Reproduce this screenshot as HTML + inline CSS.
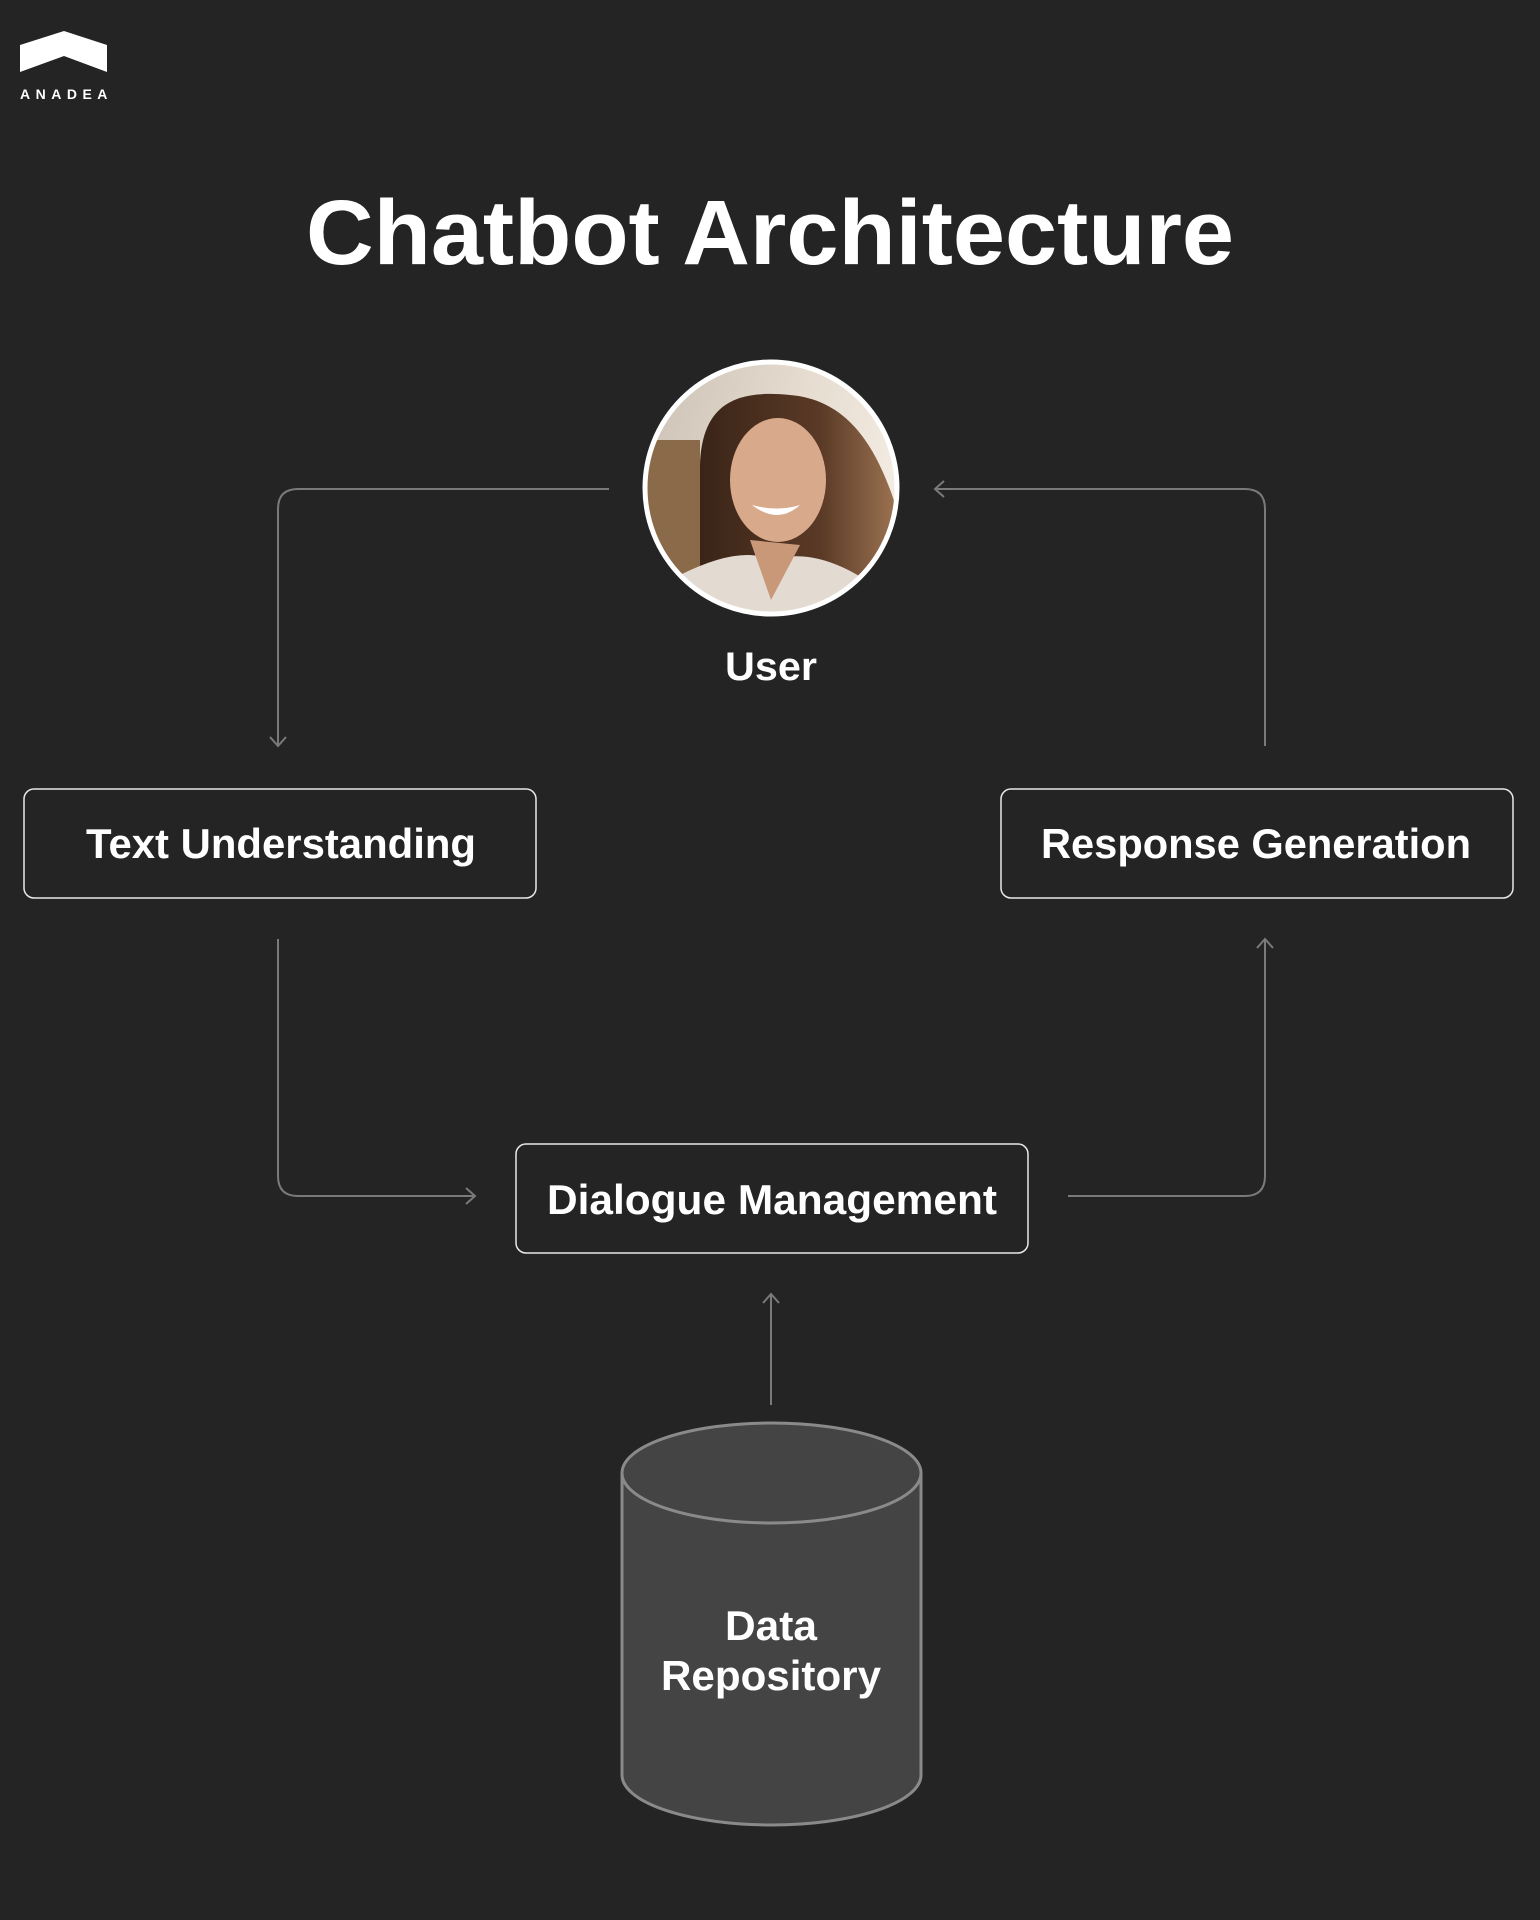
<!DOCTYPE html>
<html><head><meta charset="utf-8"><style>
html,body{margin:0;padding:0;background:#242424;}
svg{display:block;}
text{font-family:"Liberation Sans",sans-serif;fill:#fff;font-weight:bold;}
</style></head><body>
<svg width="1540" height="1920" viewBox="0 0 1540 1920" xmlns="http://www.w3.org/2000/svg">
<rect width="1540" height="1920" fill="#242424"/>
<defs>
<clipPath id="cc"><circle cx="771" cy="488" r="125"/></clipPath>
<linearGradient id="bg" x1="0" y1="0" x2="1" y2="0.3"><stop offset="0" stop-color="#c9bfb3"/><stop offset="0.6" stop-color="#e6dcd0"/><stop offset="1" stop-color="#f3ece2"/></linearGradient>
<linearGradient id="hair" x1="0" y1="0" x2="1" y2="0"><stop offset="0" stop-color="#3a2418"/><stop offset="0.6" stop-color="#5a3a26"/><stop offset="1" stop-color="#a07654"/></linearGradient>
</defs>
<!-- logo -->
<polygon points="20,45 64,31 107,45 107,72 64,56 20,72" fill="#fff"/>
<text x="20" y="99" font-size="14" letter-spacing="5.5" font-weight="normal">ANADEA</text>
<!-- title -->
<text x="770" y="264" font-size="92" text-anchor="middle" textLength="928" lengthAdjust="spacingAndGlyphs">Chatbot Architecture</text>
<!-- photo -->
<g clip-path="url(#cc)">
<rect x="640" y="355" width="270" height="270" fill="url(#bg)"/>
<rect x="640" y="440" width="60" height="150" fill="#8a6a48"/>
<path d="M700 470 C700 400 740 390 790 395 C850 400 880 450 900 520 C905 560 890 590 870 600 L700 600 Z" fill="url(#hair)"/>
<ellipse cx="778" cy="480" rx="48" ry="62" fill="#d8a98a"/>
<path d="M752 505 Q778 525 800 505 Q778 512 752 505Z" fill="#fff"/>
<path d="M680 575 Q740 545 771 560 Q820 545 880 590 L880 625 L680 625Z" fill="#e3dbd2"/>
<path d="M750 540 L771 600 L800 545 Z" fill="#c99879"/>
</g>
<circle cx="771" cy="488" r="126" fill="none" stroke="#fff" stroke-width="5"/>
<text x="771" y="680" font-size="40" text-anchor="middle" textLength="92" lengthAdjust="spacingAndGlyphs">User</text>
<!-- connectors -->
<g fill="none" stroke="#7a7a7a" stroke-width="2">
<path d="M609 489 H298 Q278 489 278 509 V746"/>
<path d="M270 737 L278 746 L286 737"/>
<path d="M935 489 H1245 Q1265 489 1265 509 V746"/>
<path d="M944 481 L935 489 L944 497"/>
<path d="M278 939 V1176 Q278 1196 298 1196 H475"/>
<path d="M466 1188 L475 1196 L466 1204"/>
<path d="M1068 1196 H1245 Q1265 1196 1265 1176 V939"/>
<path d="M1257 948 L1265 939 L1273 948"/>
<path d="M771 1405 V1294"/>
<path d="M763 1303 L771 1294 L779 1303"/>
</g>
<!-- boxes -->
<g fill="#242424" stroke="#e8e8e8" stroke-width="1.5">
<rect x="24" y="789" width="512" height="109" rx="10"/>
<rect x="1001" y="789" width="512" height="109" rx="10"/>
<rect x="516" y="1144" width="512" height="109" rx="10"/>
</g>
<text x="281" y="858" font-size="42" text-anchor="middle" textLength="390" lengthAdjust="spacingAndGlyphs">Text Understanding</text>
<text x="1256" y="858" font-size="42" text-anchor="middle" textLength="430" lengthAdjust="spacingAndGlyphs">Response Generation</text>
<text x="772" y="1214" font-size="42" text-anchor="middle" textLength="450" lengthAdjust="spacingAndGlyphs">Dialogue Management</text>
<!-- cylinder -->
<path d="M622 1473 V1775 A149.5 50 0 0 0 921 1775 V1473" fill="#444" stroke="#8a8a8a" stroke-width="3"/>
<ellipse cx="771.5" cy="1473" rx="149.5" ry="50" fill="#444" stroke="#8a8a8a" stroke-width="3"/>
<text x="771" y="1640" font-size="42" text-anchor="middle" textLength="92" lengthAdjust="spacingAndGlyphs">Data</text>
<text x="771" y="1690" font-size="42" text-anchor="middle" textLength="220" lengthAdjust="spacingAndGlyphs">Repository</text>
</svg>
</body></html>
